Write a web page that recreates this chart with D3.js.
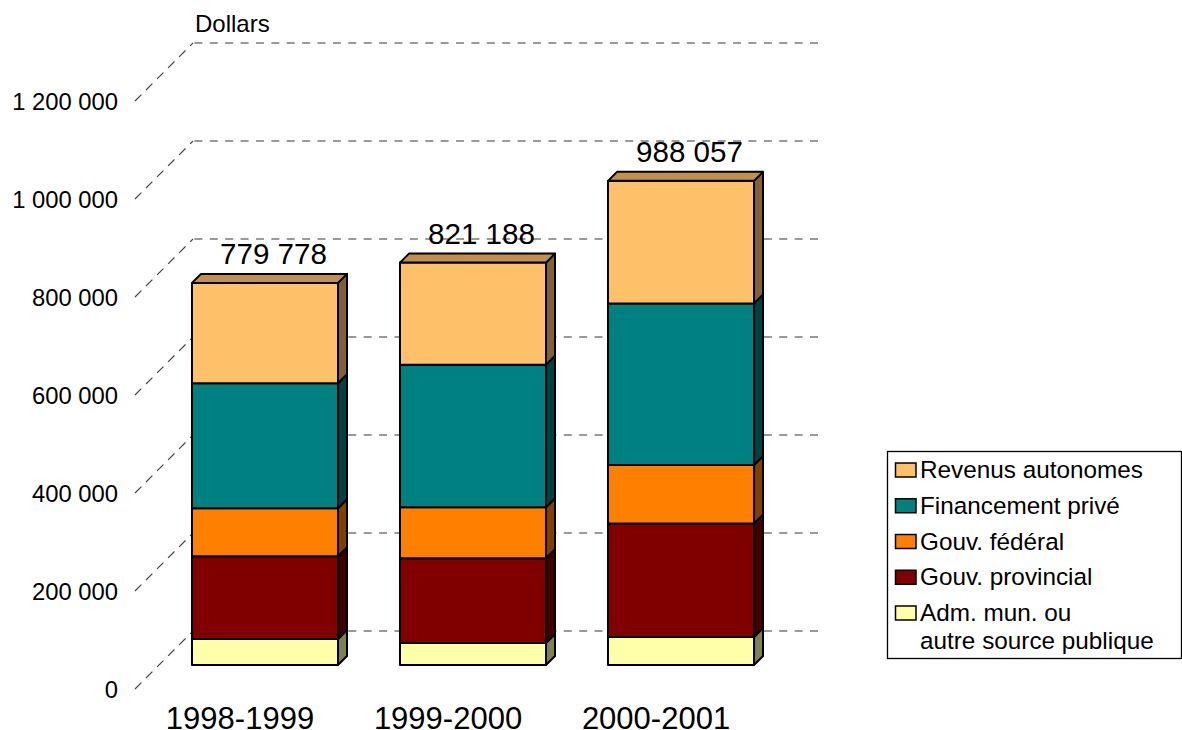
<!DOCTYPE html>
<meta charset="utf-8">
<style>
body { margin: 0; background: #fff; }
svg { display: block; }
text { font-family: "Liberation Sans", Arial, sans-serif; fill: #000; }
</style>
<body>
<script src="https://d3js.org/d3.v7.min.js"></script>
<script>

var years = ["1998-1999", "1999-2000", "2000-2001"];
var totals = [779778, 821188, 988057];
var totalLabels = ["779 778", "821 188", "988 057"];

// bottom to top
var seriesNames = ["Adm. mun. ou", "Gouv. provincial", "Gouv. fédéral", "Financement privé", "Revenus autonomes"];
var admMun = [53000, 45000, 57000];
var provincial = [169000, 173000, 232000];
var federal = [98000, 104000, 119000];
var prive = [255000, 291000, 330000];
var revenus = [204778, 208188, 250057];

var colors = ["#ffffaa", "#800000", "#ff8000", "#008080", "#ffc06a"];
var yTicks = [0, 200000, 400000, 600000, 800000, 1000000, 1200000];

var width = 1182, height = 730;
var depth = 9;          // bar depth
var wall = 58;          // depth of the back wall
var frontShift = 24;    // axis plane sits in front of the bars

var svg = d3.select("body").append("svg")
    .attr("width", width)
    .attr("height", height);

var x = d3.scaleBand().domain(years).range([130, 816]).padding(0.298);
var y = d3.scaleLinear().domain([0, 1200000]).range([665, 77]);

var rows = years.map(function(yr, i) {
  return {year: yr, s0: admMun[i], s1: provincial[i], s2: federal[i], s3: prive[i], s4: revenus[i]};
});
var stacked = d3.stack().keys(["s0", "s1", "s2", "s3", "s4"])(rows);

//gridlines: diagonal on the side wall, then along the back wall
var x0 = 135, x1 = x0 + wall, x2 = 818;
var grid = svg.append("g").selectAll("g.grid")
    .data(yTicks)
  .enter().append("g")
    .attr("class", "grid")
    .attr("fill", "none");

grid.append("path")
    .attr("stroke", "#444")
    .attr("stroke-width", 1.2)
    .attr("stroke-dasharray", "9,6.6")
    .attr("d", function(d) {
      var yf = y(d) + frontShift;
      return "M" + x0 + "," + yf + "L" + x1 + "," + (yf - wall);
    });

grid.append("path")
    .attr("stroke", "#7a7a7a")
    .attr("stroke-width", 1.6)
    .attr("stroke-dasharray", "8,7.39")
    .attr("d", function(d) {
      var yb = y(d) + frontShift - wall;
      return "M" + (x1 + 1.4) + "," + yb + "L" + x2 + "," + yb;
    });

function shadeColor(c, k) {
  var r = d3.rgb(c);
  return d3.rgb(r.r * k, r.g * k, r.b * k).formatHex();
}

//bars
var layers = svg.append("g").selectAll("g.layer")
    .data(stacked)
  .enter().append("g")
    .attr("class", "layer");

function drawFace(cls, shade, pathFn) {
  layers.selectAll("path." + cls)
      .data(function(s) { return s.map(function(d) { return {d: d, i: s.index}; }); })
    .enter().append("path")
      .attr("class", cls)
      .attr("fill", function(p) { return shadeColor(colors[p.i], shade); })
      .attr("stroke", "#000")
      .attr("stroke-width", 2)
      .attr("stroke-linejoin", "round")
      .attr("d", pathFn);
}

drawFace("side", 0.5, function(p) {
  var xr = x(p.d.data.year) + x.bandwidth(), t = y(p.d[1]), b = y(p.d[0]);
  return "M" + xr + "," + t + "l" + depth + "," + -depth + "L" + (xr + depth) + "," + (b - depth) + "L" + xr + "," + b + "Z";
});
drawFace("front", 1, function(p) {
  var xl = x(p.d.data.year), t = y(p.d[1]), b = y(p.d[0]);
  return "M" + xl + "," + t + "h" + x.bandwidth() + "V" + b + "H" + xl + "Z";
});

//top of the stack
svg.append("g").selectAll("path.top")
    .data(stacked[4])
  .enter().append("path")
    .attr("class", "top")
    .attr("fill", shadeColor(colors[4], 0.75))
    .attr("stroke", "#000")
    .attr("stroke-width", 2)
    .attr("stroke-linejoin", "round")
    .attr("d", function(d) {
      var xl = x(d.data.year), t = y(d[1]);
      return "M" + xl + "," + t + "l" + depth + "," + -depth + "h" + x.bandwidth() + "l" + -depth + "," + depth + "Z";
    });

//totals above the bars
svg.append("g").selectAll("text")
    .data(years)
  .enter().append("text")
    .attr("x", function(d) { return x(d) + x.bandwidth() / 2 + 8.5; })
    .attr("y", function(d, i) { return y(totals[i]) - 18.5; })
    .attr("text-anchor", "middle")
    .style("font-size", "29.6px")
    .text(function(d, i) { return totalLabels[i]; });

//axes
var yAxis = d3.axisLeft(y)
    .tickValues(yTicks)
    .tickSize(0)
    .tickPadding(0)
    .tickFormat(function(d) { return d3.format(",")(d).replace(/,/g, " "); });

var gy = svg.append("g")
    .attr("transform", "translate(118," + (frontShift + 1) + ")")
    .call(yAxis);
gy.select(".domain").remove();
gy.selectAll("text").style("font-size", "23.8px").style("font-family", null);

var xAxis = d3.axisBottom(x).tickSize(0).tickPadding(0);
var gx = svg.append("g")
    .attr("transform", "translate(-25,700)")
    .call(xAxis);
gx.select(".domain").remove();
gx.selectAll("text").style("font-size", "31px").style("font-family", null).attr("dy", "0.94em").attr("y", 0);

svg.append("text")
    .attr("x", 195)
    .attr("y", 32)
    .style("font-size", "24px")
    .text("Dollars");

//legend, top row first
var legendOrder = [4, 3, 2, 1, 0];
var legendY = d3.scalePoint().domain(legendOrder).range([470, 613]);

svg.append("rect")
    .attr("x", 887.5)
    .attr("y", 451.5)
    .attr("width", 294)
    .attr("height", 207)
    .attr("fill", "#fff")
    .attr("stroke", "#000")
    .attr("stroke-width", 1.3);

var legend = svg.append("g").selectAll("g")
    .data(legendOrder)
  .enter().append("g")
    .attr("transform", function(d) { return "translate(0," + legendY(d) + ")"; });

legend.append("rect")
    .attr("x", 895.5)
    .attr("y", -7)
    .attr("width", 20.5)
    .attr("height", 14)
    .attr("fill", function(d) { return colors[d]; })
    .attr("stroke", "#000")
    .attr("stroke-width", 1.5);

legend.append("text")
    .attr("x", 920)
    .attr("y", 8)
    .style("font-size", "24.3px")
    .text(function(d) { return seriesNames[d]; });

svg.append("text")
    .attr("x", 920)
    .attr("y", 649)
    .style("font-size", "24.3px")
    .text("autre source publique");

</script>
